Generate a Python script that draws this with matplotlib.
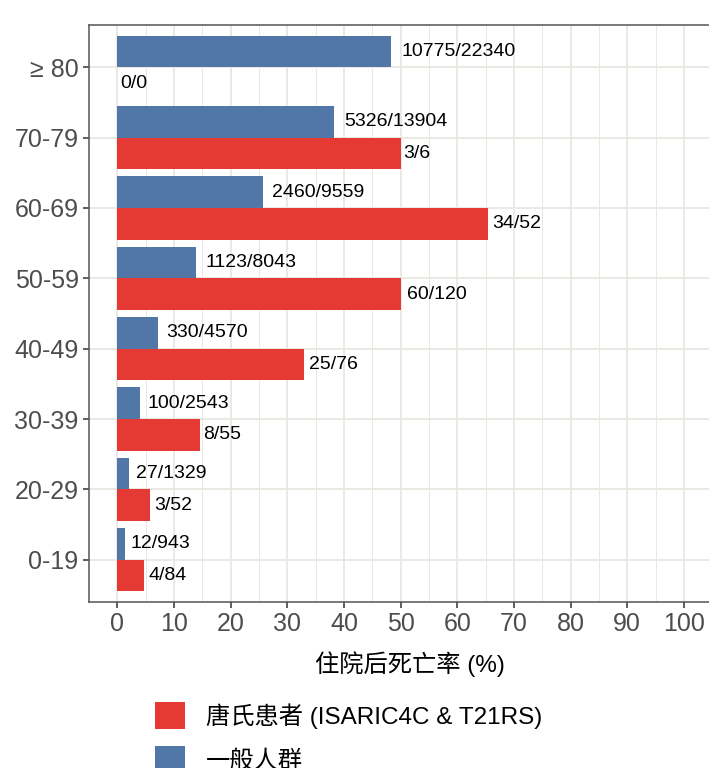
import matplotlib
matplotlib.use('Agg')
import matplotlib.pyplot as plt
from matplotlib.patches import Patch
import numpy as np

# data (bottom to top)
age_groups = ['0-19', '20-29', '30-39', '40-49', '50-59', '60-69', '70-79', '≥ 80']
ds_deaths = [4, 3, 8, 25, 60, 34, 3, 0]
ds_total = [84, 52, 55, 76, 120, 52, 6, 0]
gen_deaths = [12, 27, 100, 330, 1123, 2460, 5326, 10775]
gen_total = [943, 1329, 2543, 4570, 8043, 9559, 13904, 22340]

ds_rate = [100 * d / t if t > 0 else 0 for d, t in zip(ds_deaths, ds_total)]
gen_rate = [100 * d / t for d, t in zip(gen_deaths, gen_total)]

red = '#E53A33'
blue = '#5177A8'
grid_col = '#EBE6E1'
tick_col = '#4D4D4D'

plt.rcParams['font.family'] = ['Liberation Sans', 'Noto Sans CJK SC']

fig = plt.figure(figsize=(7.09, 7.68), dpi=100)
ax = fig.add_axes([0.1255, 0.2161, 0.879, 0.7513])

y = np.arange(1, len(age_groups) + 1)
h = 0.45
ax.barh(y + h / 2, gen_rate, height=h, color=blue, zorder=3)
ax.barh(y - h / 2, ds_rate, height=h, color=red, zorder=3)

ax.set_xlim(-5, 105)
ax.set_ylim(0.4, len(age_groups) + 0.6)
ax.set_xticks(np.arange(0, 101, 10))
ax.set_xticks(np.arange(5, 100, 10), minor=True)
ax.set_yticks(y)
ax.set_yticklabels(age_groups)
ax.tick_params(axis='both', which='major', labelsize=18, colors='#333333',
               labelcolor=tick_col, length=4, width=1.1)
ax.tick_params(axis='x', which='minor', length=0)
ax.grid(True, which='major', color=grid_col, linewidth=1.3, zorder=0)
ax.grid(True, which='minor', axis='x', color=grid_col, linewidth=0.7, zorder=0)
for side in ['left', 'bottom', 'top']:
    ax.spines[side].set_color('#555555')
    ax.spines[side].set_linewidth(1.1)
ax.spines['right'].set_visible(False)

# value labels, shifted right by 10% of text width
renderer = fig.canvas.get_renderer()
def put_label(xv, yv, s):
    t = ax.text(xv, yv, s, fontsize=14, va='center', ha='left', zorder=4)
    w = t.get_window_extent(renderer).width * 72 / fig.dpi
    t.remove()
    ax.annotate(s, (xv, yv), xytext=(0.1 * w, 0), textcoords='offset points',
                fontsize=14, va='center', ha='left', zorder=4)

for i in range(len(age_groups)):
    put_label(gen_rate[i], y[i] + h / 2, f'{gen_deaths[i]}/{gen_total[i]}')
    put_label(ds_rate[i], y[i] - h / 2, f'{ds_deaths[i]}/{ds_total[i]}')

ax.set_xlabel('住院后死亡率 (%)', fontsize=17.5, color='black', labelpad=12)
ax.xaxis.set_label_coords(0.515, -0.085)

handles = [Patch(facecolor=red, edgecolor='none', label='唐氏患者 (ISARIC4C & T21RS)'),
           Patch(facecolor=blue, edgecolor='none', label='一般人群')]
fig.legend(handles=handles, loc='upper left', bbox_to_anchor=(0.205, 0.098),
           frameon=False, fontsize=17.5, handlelength=1.25, handleheight=1.3,
           labelspacing=0.7, handletextpad=0.85, borderaxespad=0)

fig.savefig('out.png', dpi=100)
